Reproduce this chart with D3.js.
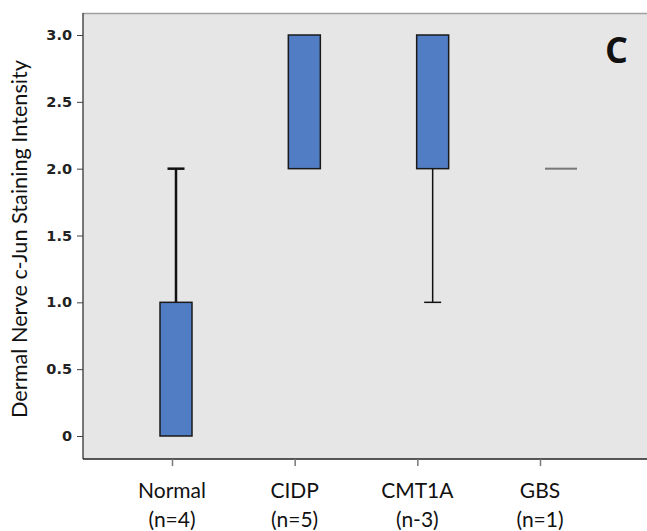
<!DOCTYPE html>
<html>
<head>
<meta charset="utf-8">
<script src="https://cdn.jsdelivr.net/npm/d3@7"></script>
<style>
  body { margin: 0; background: #fff; }
  svg { display: block; }
</style>
</head>
<body>
<svg id="chart" width="647" height="531"></svg>
<script>
// groups and their box statistics
const groups = ['Normal', 'CIDP', 'CMT1A', 'GBS'];
const counts = ['(n=4)', '(n=5)', '(n-3)', '(n=1)'];
const lowWhisker = [0, 2, 1, 2];
const q1 = [0, 2, 2, 2];
const q3 = [1, 3, 3, 2];
const highWhisker = [2, 3, 3, 2];
const yTicks = [0, 0.5, 1.0, 1.5, 2.0, 2.5, 3.0];

const data = groups.map((g, i) => ({
    key: g, n: counts[i], lo: lowWhisker[i], q1: q1[i], q3: q3[i], hi: highWhisker[i]
}));

const W = 647, H = 531;
const plot = {left: 83, top: 13, right: 660, bottom: 459};

const svg = d3.select('#chart');

let y = d3.scaleLinear()
    .domain([0, 3])
    .range([436, 35]);

// axis ticks and the boxes sit on slightly different spacing in the figure
let xAxis = d3.scalePoint()
    .domain(groups)
    .range([172, 540]);

let xBox = d3.scalePoint()
    .domain(groups)
    .range([176, 561]);

const boxW = 32, capW = 17;

svg.append('rect')
    .attr('x', plot.left)
    .attr('y', plot.top)
    .attr('width', plot.right - plot.left)
    .attr('height', plot.bottom - plot.top)
    .style('fill', '#e6e6e6');

// frame: gray top, dark left and bottom
svg.append('line')
    .attr('x1', plot.left).attr('x2', W)
    .attr('y1', plot.top + 0.5).attr('y2', plot.top + 0.5)
    .style('stroke', '#a0a0a0').style('stroke-width', 1.5);

svg.append('line')
    .attr('x1', plot.left).attr('x2', plot.left)
    .attr('y1', plot.top).attr('y2', plot.bottom)
    .style('stroke', '#222').style('stroke-width', 1.2);

svg.append('line')
    .attr('x1', plot.left).attr('x2', W)
    .attr('y1', plot.bottom).attr('y2', plot.bottom)
    .style('stroke', '#222').style('stroke-width', 1.5);

// y axis
let yAxisG = svg.append('g')
    .attr('transform', `translate(${plot.left}, 0)`)
    .call(d3.axisLeft(y)
        .tickValues(yTicks)
        .tickSize(6)
        .tickPadding(5)
        .tickFormat(d => d === 0 ? '0' : d3.format('.1f')(d)));

yAxisG.select('.domain').remove();
yAxisG.selectAll('.tick line').style('stroke', '#444');
yAxisG.selectAll('.tick text')
    .style('font', 'bold 14.5px "DejaVu Sans", sans-serif')
    .style('fill', '#222');

// x axis
let xAxisG = svg.append('g')
    .attr('transform', `translate(0, ${plot.bottom})`)
    .call(d3.axisBottom(xAxis).tickSize(7).tickFormat(''));

xAxisG.select('.domain').remove();
xAxisG.selectAll('.tick line').style('stroke', '#777').style('stroke-width', 1.5);

let labels = svg.append('g')
    .selectAll('text')
    .data(data)
    .enter()
    .append('text')
        .attr('x', d => xAxis(d.key))
        .attr('y', 498)
        .attr('text-anchor', 'middle')
        .style('font', '21px Lato, sans-serif')
        .style('fill', '#111');

labels.append('tspan')
    .attr('x', d => xAxis(d.key))
    .text(d => d.key);

labels.append('tspan')
    .attr('x', d => xAxis(d.key))
    .attr('dy', 29)
    .text(d => d.n);

// y title
svg.append('text')
    .attr('transform', 'translate(27, 239) rotate(-90)')
    .attr('text-anchor', 'middle')
    .style('font', '21.7px Lato, sans-serif')
    .style('fill', '#111')
    .text('Dermal Nerve c-Jun Staining Intensity');

// panel letter
svg.append('text')
    .attr('x', 628)
    .attr('y', 63)
    .attr('text-anchor', 'end')
    .style('font', 'bold 36px "Open Sans", sans-serif')
    .style('fill', '#111')
    .text('C');

// boxes
let boxes = svg.append('g')
    .selectAll('.box')
    .data(data)
    .enter()
    .append('g')
        .attr('class', 'box')
        .attr('transform', d => `translate(${xBox(d.key)}, 0)`);

// whiskers
boxes.filter(d => d.hi > d.q3)
    .append('line')
        .attr('y1', d => y(d.q3)).attr('y2', d => y(d.hi))
        .style('stroke', '#111')
        .style('stroke-width', d => d.key === 'Normal' ? 2.5 : 1.5);

boxes.filter(d => d.hi > d.q3)
    .append('line')
        .attr('x1', -capW / 2).attr('x2', capW / 2)
        .attr('y1', d => y(d.hi)).attr('y2', d => y(d.hi))
        .style('stroke', '#111')
        .style('stroke-width', d => d.key === 'Normal' ? 2.5 : 1.5);

boxes.filter(d => d.lo < d.q1)
    .append('line')
        .attr('y1', d => y(d.q1)).attr('y2', d => y(d.lo))
        .style('stroke', '#111')
        .style('stroke-width', 1.5);

boxes.filter(d => d.lo < d.q1)
    .append('line')
        .attr('x1', -capW / 2).attr('x2', capW / 2)
        .attr('y1', d => y(d.lo)).attr('y2', d => y(d.lo))
        .style('stroke', '#111')
        .style('stroke-width', 1.5);

boxes.filter(d => d.q3 > d.q1)
    .append('rect')
        .attr('x', -boxW / 2)
        .attr('y', d => y(d.q3))
        .attr('width', boxW)
        .attr('height', d => y(d.q1) - y(d.q3))
        .style('fill', '#517dc4')
        .style('stroke', '#1a1a1a')
        .style('stroke-width', 1.5);

// degenerate box (all values equal) is a single gray line
boxes.filter(d => d.q3 === d.q1)
    .append('line')
        .attr('x1', -boxW / 2).attr('x2', boxW / 2)
        .attr('y1', d => y(d.q1)).attr('y2', d => y(d.q1))
        .style('stroke', '#777')
        .style('stroke-width', 2);
</script>
</body>
</html>
